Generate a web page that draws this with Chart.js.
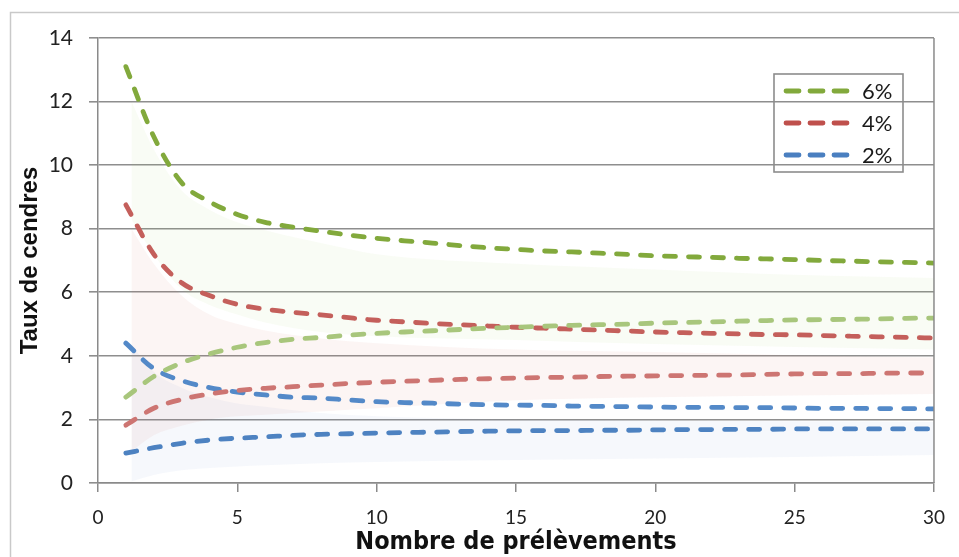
<!DOCTYPE html>
<html>
<head>
<meta charset="utf-8">
<script src="https://cdn.jsdelivr.net/npm/chart.js@4.4.1/dist/chart.umd.min.js"></script>
<style>
  html, body { margin: 0; padding: 0; background: #ffffff; }
  #wrap { width: 959px; height: 557px; position: relative; }
</style>
</head>
<body>
<div id="wrap"><canvas id="c" width="959" height="557"></canvas></div>
<script>
// Number of samples (x axis)
const samples = [1,2,3,4,5,6,7,8,9,10,11,12,13,14,15,16,17,18,19,20,21,22,23,24,25,26,27,28,29,30];

// Upper and lower limits of the ash content for each nominal level
const upper6 = [13.1,10.9,9.45,8.85,8.45,8.2,8.05,7.92,7.8,7.7,7.62,7.55,7.47,7.4,7.35,7.3,7.27,7.23,7.19,7.15,7.12,7.1,7.07,7.05,7.03,7.0,6.98,6.96,6.94,6.92];
const lower6 = [2.7,3.35,3.78,4.06,4.27,4.42,4.52,4.58,4.65,4.71,4.75,4.79,4.83,4.87,4.9,4.93,4.96,4.98,5.0,5.03,5.05,5.07,5.09,5.11,5.13,5.14,5.15,5.16,5.18,5.19];
const upper4 = [8.75,7.2,6.3,5.9,5.62,5.47,5.37,5.29,5.2,5.12,5.07,5.02,4.98,4.94,4.9,4.87,4.84,4.81,4.78,4.75,4.73,4.71,4.69,4.67,4.66,4.64,4.62,4.6,4.58,4.56];
const lower4 = [1.82,2.35,2.63,2.8,2.91,2.98,3.03,3.08,3.13,3.17,3.2,3.23,3.26,3.28,3.3,3.32,3.33,3.35,3.36,3.37,3.38,3.39,3.4,3.42,3.43,3.44,3.44,3.45,3.46,3.46];
const upper2 = [4.4,3.6,3.22,3.0,2.86,2.77,2.7,2.67,2.61,2.56,2.53,2.51,2.48,2.46,2.45,2.44,2.42,2.41,2.4,2.39,2.38,2.38,2.37,2.37,2.36,2.35,2.35,2.34,2.34,2.33];
const lower2 = [0.94,1.11,1.25,1.35,1.41,1.45,1.5,1.53,1.55,1.57,1.59,1.6,1.62,1.63,1.64,1.65,1.65,1.66,1.66,1.67,1.68,1.68,1.69,1.69,1.7,1.7,1.7,1.7,1.7,1.7];

// Shaded dispersion bands
const bandX = [1.2,2,3,4,5,6,8,10,15,20,25,30];
const bandTop6 = [12.0,10.5,9.2,8.6,8.2,7.95,7.55,7.2,6.9,6.72,6.55,6.45];
const bandBot6 = [8.3,7.2,6.1,5.6,5.3,5.05,4.75,4.62,4.5,4.37,4.28,4.2];
const bandTop4 = [8.0,6.9,5.9,5.3,5.0,4.8,4.55,4.4,4.2,4.12,4.02,3.95];
const bandBot4 = [1.0,1.5,1.8,2.0,2.1,2.15,2.25,2.35,2.6,2.7,2.75,2.8];
const bandTop2 = [4.35,3.5,3.0,2.7,2.5,2.4,2.2,2.1,2.0,1.97,1.94,1.92];
const bandBot2 = [0.05,0.25,0.4,0.47,0.52,0.56,0.62,0.66,0.72,0.77,0.82,0.88];

// Legend entries and axis ticks
const legendLabels = ['6%', '4%', '2%'];
const xTicks = [0,5,10,15,20,25,30];
const yTicks = [0,2,4,6,8,10,12,14];

const GREEN = '#82a93c', RED = '#bf504c', BLUE = '#4a7fc0';
const colors = [GREEN, RED, BLUE];

const pts = (xs, ys) => xs.map((x, i) => ({ x, y: ys[i] }));

function limitLine(label, data, color) {
  return {
    label, data: pts(samples, data),
    borderColor: color, borderWidth: 4.8,
    borderDash: [11, 13], borderCapStyle: 'round',
    pointRadius: 0, fill: false,
    cubicInterpolationMode: 'monotone'
  };
}
function band(top, bot, rgba) {
  return [
    { label: '', data: pts(bandX, top), borderWidth: 0, pointRadius: 0,
      backgroundColor: rgba, fill: '+1', cubicInterpolationMode: 'monotone' },
    { label: '', data: pts(bandX, bot), borderWidth: 0, pointRadius: 0,
      fill: false, cubicInterpolationMode: 'monotone' }
  ];
}

const datasets = [
  limitLine('6%', upper6, GREEN),
  limitLine('', lower6, '#a8c67c'),
  limitLine('4%', upper4, '#c45f5b'),
  limitLine('', lower4, '#cd7572'),
  limitLine('2%', upper2, '#5389c8'),
  limitLine('', lower2, '#4d82c1'),
  ...band(bandTop6, bandBot6, 'rgba(160,205,110,0.065)'),
  ...band(bandTop4, bandBot4, 'rgba(215,110,95,0.065)'),
  ...band(bandTop2, bandBot2, 'rgba(100,140,205,0.06)')
];

const TITLE_FONT = "'Liberation Sans Narrow', 'DejaVu Sans Condensed', 'Roboto Condensed', 'Liberation Sans', sans-serif";

// Outer frame, plot border and boxed legend
const decorations = {
  id: 'decorations',
  beforeDraw(chart) {
    const ctx = chart.ctx;
    ctx.save();
    ctx.fillStyle = '#ffffff';
    ctx.fillRect(0, 0, chart.width, chart.height);
    ctx.strokeStyle = '#c9c9c9';
    ctx.lineWidth = 1.5;
    ctx.strokeRect(10.5, 12.5, chart.width + 20, chart.height + 20);
    ctx.restore();
  },
  afterDatasetsDraw(chart) {
    const ctx = chart.ctx;
    const a = chart.chartArea;
    ctx.save();
    ctx.strokeStyle = '#8a8a8a';
    ctx.lineWidth = 1.5;
    ctx.beginPath();
    ctx.moveTo(a.right, a.top);
    ctx.lineTo(a.right, a.bottom);
    ctx.stroke();

    // legend box
    const bx = 774, by = 74, bw = 129, bh = 98;
    ctx.strokeStyle = '#8c8c8c';
    ctx.lineWidth = 1.6;
    ctx.strokeRect(bx, by, bw, bh);
    ctx.font = '22px Lato';
    ctx.textBaseline = 'middle';
    ctx.textAlign = 'left';
    legendLabels.forEach((lab, i) => {
      const y = by + 17 + i * 32;
      ctx.strokeStyle = colors[i];
      ctx.lineWidth = 4.8;
      ctx.lineCap = 'round';
      ctx.setLineDash([13, 11]);
      ctx.beginPath();
      ctx.moveTo(786, y);
      ctx.lineTo(848, y);
      ctx.stroke();
      ctx.setLineDash([]);
      ctx.fillStyle = '#1a1a1a';
      ctx.fillText(lab, 862, y + 1);
    });
    ctx.restore();
  }
};

new Chart(document.getElementById('c'), {
  type: 'line',
  data: { datasets },
  options: {
    responsive: false,
    animation: false,
    events: [],
    layout: { padding: { left: 0, top: 38, right: 25, bottom: 0 } },
    plugins: { legend: { display: false }, tooltip: { enabled: false },
      filler: { propagate: false } },
    scales: {
      x: {
        type: 'linear', min: 0, max: 30,
        afterBuildTicks: s => { s.ticks = xTicks.map(v => ({ value: v })); },
        afterFit: s => { s.height = 74; },
        grid: { display: true, drawOnChartArea: false, drawTicks: true, tickLength: 9,
                color: '#8a8a8a', lineWidth: 1.5 },
        border: { color: '#8a8a8a', width: 1.5 },
        ticks: { color: '#222', font: { family: 'Lato', size: 19 }, padding: 14, maxRotation: 0 },
        title: { display: true, text: 'Nombre de prélèvements', color: '#111',
                 font: { family: TITLE_FONT, weight: 'bold', size: 25 }, padding: { top: -6, bottom: 0 } }
      },
      y: {
        type: 'linear', min: 0, max: 14,
        afterBuildTicks: s => { s.ticks = yTicks.map(v => ({ value: v })); },
        afterFit: s => { s.width = 98; },
        grid: { color: '#8e8e8e', lineWidth: 1.6, tickLength: 9 },
        border: { color: '#8a8a8a', width: 1.5 },
        ticks: { color: '#222', font: { family: 'Lato', size: 21 }, padding: 16 },
        title: { display: true, text: 'Taux de cendres', color: '#111',
                 font: { family: "'Liberation Sans', Arial, sans-serif", weight: 'bold', size: 24 }, padding: { top: 16, bottom: 0 } }
      }
    }
  },
  plugins: [decorations]
});
</script>
</body>
</html>
